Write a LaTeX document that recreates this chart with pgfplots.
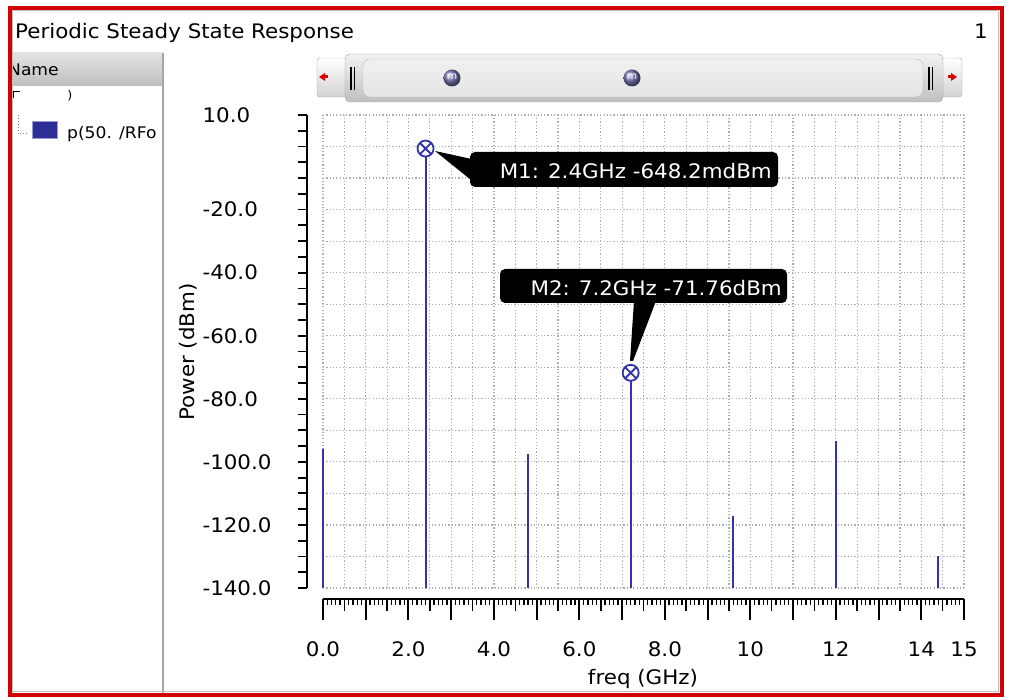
\documentclass[border=0pt]{standalone}
\usepackage{pgfplots}
\pgfplotsset{compat=1.18}
\usepackage{fontspec}
\setmainfont{DejaVu Sans}[FakeStretch=1.07]
\usetikzlibrary{plotmarks,shadings}
\definecolor{stem}{RGB}{51,51,170}
\definecolor{bred}{RGB}{210,0,0}
\newcommand\fA{\fontsize{20}{24}\selectfont}
\newcommand\fB{\fontsize{16}{19}\selectfont}
\begin{document}
\begin{tikzpicture}
\useasboundingbox (0,0) rectangle (1013pt,700pt);
\fill[white] (0,0) rectangle (1013pt,700pt);

% ---------- grid + data ----------
\begin{axis}[at={(323pt,112pt)}, anchor=south west, scale only axis,
  width=641pt, height=473pt,
  xmin=0, xmax=15, ymin=-140, ymax=10,
  axis line style={draw=none},
  xtick={0,0.5,...,15}, ytick={-140,-130,...,10},
  xticklabels={}, yticklabels={},
  major tick length=0pt, tick style={draw=none},
  grid=major,
  grid style={gray!65, line width=1.2pt, dash pattern=on 1.2pt off 2.1pt},
  clip=false]
\addplot[stem, line width=2pt, no marks] coordinates {(0,-140) (0,-95.9)};
\addplot[stem, line width=2pt, no marks] coordinates {(2.4,-140) (2.4,-0.648)};
\addplot[stem, line width=2pt, no marks] coordinates {(4.8,-140) (4.8,-97.5)};
\addplot[stem, line width=2pt, no marks] coordinates {(7.2,-140) (7.2,-71.76)};
\addplot[stem, line width=2pt, no marks] coordinates {(9.6,-140) (9.6,-117.1)};
\addplot[stem, line width=2pt, no marks] coordinates {(12,-140) (12,-93.3)};
\addplot[stem, line width=2pt, no marks] coordinates {(14.4,-140) (14.4,-129.8)};
\addplot[only marks, mark=otimes*, mark size=8pt,
  mark options={draw=stem, fill=white, line width=1.8pt}]
  coordinates {(2.4,-0.648) (7.2,-71.76)};
\end{axis}

% ---------- x ruler: fine ticks ----------
\begin{axis}[at={(323pt,112pt)}, anchor=south west, scale only axis,
  width=641pt, height=473pt,
  xmin=0, xmax=15, ymin=-140, ymax=10,
  axis x line=bottom, axis y line=none, axis x line shift=11pt,
  axis line style={-, line width=1.5pt},
  xtick={0,0.1,...,15.05}, xticklabels={},
  tick align=outside, major tick length=6pt,
  major tick style={black, line width=1.3pt}]
\end{axis}

% ---------- x ruler: main ticks ----------
\begin{axis}[at={(323pt,112pt)}, anchor=south west, scale only axis,
  width=641pt, height=473pt,
  xmin=0, xmax=15, ymin=-140, ymax=10,
  axis x line=bottom, axis y line=none, axis x line shift=11pt,
  axis line style={-, line width=1.5pt},
  xtick={0,1,...,15}, minor xtick={0.5,1.5,...,14.5},
  xticklabels={0.0,,2.0,,4.0,,6.0,,8.0,,10,,12,,14,15},
  tick align=outside, major tick length=21pt, minor tick length=12pt,
  major tick style={black, line width=2pt},
  minor tick style={black, line width=1.5pt},
  xticklabel style={font=\fA, yshift=-18pt}]
\end{axis}

% ---------- y ruler ----------
\begin{axis}[at={(323pt,112pt)}, anchor=south west, scale only axis,
  width=641pt, height=473pt,
  xmin=0, xmax=15, ymin=-140, ymax=10,
  axis y line=left, axis x line=none, axis y line shift=16pt,
  axis line style={-, line width=1.8pt},
  ytick={-140,-135,...,10},
  yticklabels={-140.0,,,,-120.0,,,,-100.0,,,,-80.0,,,,-60.0,,,,-40.0,,,,-20.0,,,,,,10.0},
  tick align=outside, major tick length=9pt,
  major tick style={black, line width=1.8pt},
  yticklabel style={font=\fA, anchor=west, xshift=-99pt}]
\end{axis}

\begin{scope}[x=1pt, y=-1pt, shift={(0pt,700pt)}]
% axis titles
\node[rotate=90, font=\fA] at (188,352) {Power (dBm)};
\node[font=\fA, anchor=base] at (643,685) {freq (GHz)};

% callouts
\fill[black, rounded corners=5pt] (470,152) rectangle (778,187);
\fill[black] (435,151) -- (476,160) -- (476,184) -- (440,155) -- cycle;
\node[white, font=\fA, anchor=base east, inner sep=0pt] at (772,179) {M1: 2.4GHz -648.2mdBm};
\fill[black, rounded corners=5pt] (500,269) rectangle (787,303);
\fill[black] (634,301) -- (656,301) -- (633,361) -- (630,361) -- cycle;
\node[white, font=\fA, anchor=base east, inner sep=0pt] at (782,296) {M2: 7.2GHz -71.76dBm};

% scrollbar
\shade[top color=white, bottom color=gray!35, draw=gray!70, rounded corners=3pt] (317,58) rectangle (349,97);
\shade[top color=white, bottom color=gray!35, draw=gray!70, rounded corners=3pt] (939,58) rectangle (962,97);
\shade[top color=gray!10, middle color=white, bottom color=gray!50, draw=gray!70, rounded corners=5pt] (345,54) rectangle (943,102);
\shade[top color=gray!12, middle color=white, bottom color=gray!20, draw=gray!55, rounded corners=7pt] (363,59) rectangle (923,97);
\draw[black, line width=1.3pt] (351,67) -- (351,90) (354.5,67) -- (354.5,90)
  (929,67) -- (929,90) (932.5,67) -- (932.5,90);
\fill[red!85!black] (319,77) -- (325,73) -- (325,81) -- cycle;
\fill[red!85!black] (325,75.5) rectangle (328,78.5);
\fill[red!85!black] (957,77) -- (951,73) -- (951,81) -- cycle;
\fill[red!85!black] (948,75.5) rectangle (951,78.5);
\shade[ball color=blue!30!gray!80!white] (452,78) circle (8.5);
\node[white, font=\fontsize{10}{10}\selectfont] at (452,77) {m};
\shade[ball color=blue!30!gray!80!white] (632,78) circle (8.5);
\node[white, font=\fontsize{10}{10}\selectfont] at (632,77) {m};

% title
\node[font=\fA, anchor=base west, inner sep=0pt] at (15,39) {Periodic Steady State Response};
\node[font=\fA, anchor=base east, inner sep=0pt] at (988,39) {1};

% left panel
\shade[top color=gray!22, bottom color=gray!50] (12,53) rectangle (163,86);
\begin{scope}
\clip (12.5,53) rectangle (163,86);
\node[font=\fB, anchor=base west, inner sep=0pt] at (8,76) {Name};
\end{scope}
\draw[gray!70, line width=1.5pt] (163,53) -- (163,693);
\draw[black, line width=1pt] (13.5,98) -- (13.5,92) -- (20,92);
\node[font=\fontsize{12}{12}\selectfont, anchor=base, inner sep=0pt] at (70,100) {)};
\draw[gray, line width=1pt, dotted] (18,115) -- (18,134) -- (28,134);
\fill[stem!90!black, draw=stem!50] (32,121) rectangle (57,138);
\node[font=\fB, anchor=base west, inner sep=0pt] at (67,139) {p(50. /RFo};

% border
\draw[gray!50, line width=1pt] (12.5,11) rectangle (998.5,691.5);
\draw[bred, line width=4pt] (9.5,7.7) rectangle (1001.5,695);
\end{scope}
\end{tikzpicture}
\end{document}
